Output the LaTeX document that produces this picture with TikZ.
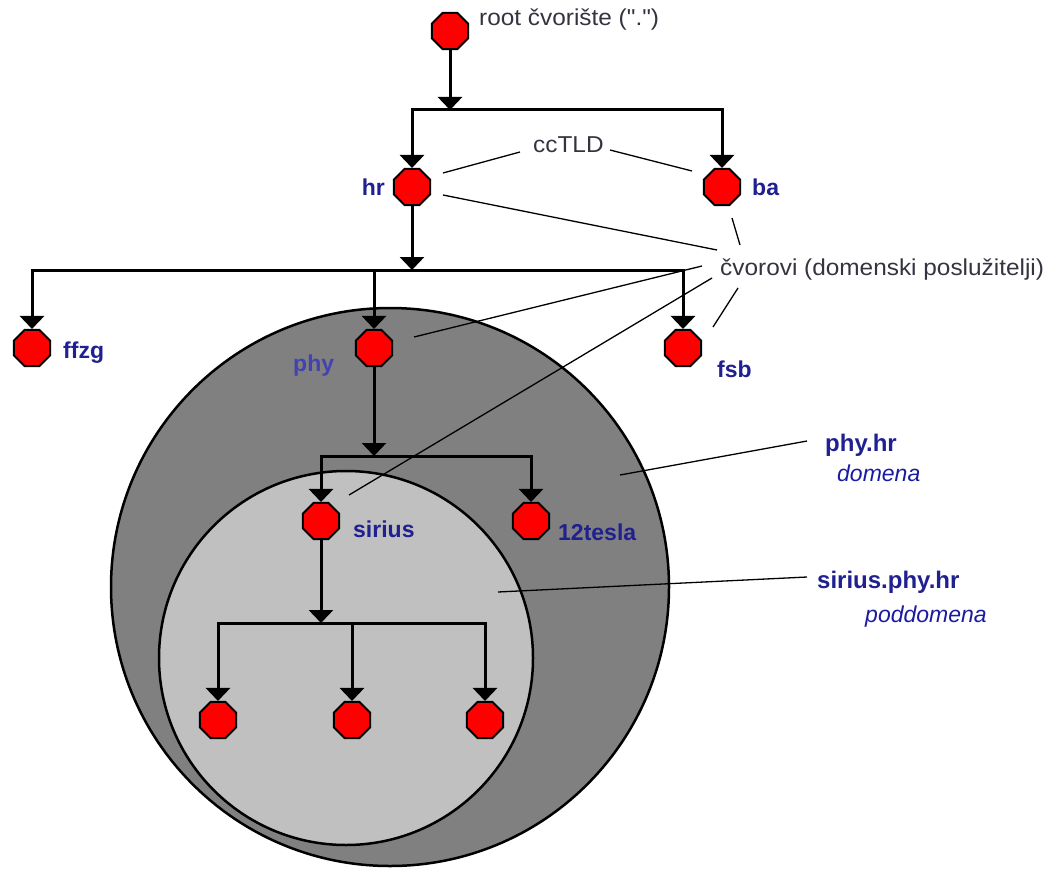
\documentclass[tikz,border=0pt]{standalone}
\usepackage{fontspec}
\setmainfont{Liberation Sans}
\newfontfamily\plainfont[FakeStretch=1.06]{Liberation Sans}
\usetikzlibrary{shapes.geometric,arrows.meta}
\definecolor{navy}{RGB}{32,32,144}
\definecolor{lblue}{RGB}{66,66,176}
\definecolor{txt}{RGB}{52,52,64}
\definecolor{dgray}{RGB}{128,128,128}
\definecolor{lgray}{RGB}{192,192,192}
\begin{document}
\begin{tikzpicture}[x=1pt,y=-1pt,
  oct/.style={regular polygon,regular polygon sides=8,draw=black,fill=red,line width=2pt,minimum size=39pt,inner sep=0pt},
  arr/.style={line width=3pt,line join=miter,-{Triangle[width=24pt,length=13pt]}},
  bar/.style={line width=3pt,line join=miter,{Triangle[width=24pt,length=13pt]}-{Triangle[width=24pt,length=13pt]}},
  lead/.style={line width=1.3pt},
  plain/.style={text=txt,font=\plainfont\fontsize{23}{27}\selectfont,inner sep=0pt},
  lbl/.style={text=navy,font=\fontsize{23}{27}\selectfont\bfseries,inner sep=0pt},
  lbllight/.style={text=lblue,font=\fontsize{23}{27}\selectfont\bfseries,inner sep=0pt},
  dom/.style={text=navy,font=\fontsize{24}{28}\selectfont\bfseries,inner sep=0pt},
  domit/.style={text=navy!85!blue,font=\fontsize{23}{27}\selectfont\itshape,inner sep=0pt},
  region/.style={draw=black,line width=2.5pt}
]
\useasboundingbox (0,0) rectangle (1049,872);
% domain regions
\draw[region,fill=dgray] (390,587) circle[radius=279];
\draw[region,fill=lgray] (346,658) circle[radius=187];

% nodes
\node[oct] (root) at (450,31) {};
\node[oct] (hr) at (412,187) {};
\node[oct] (ba) at (722,187) {};
\node[oct] (ffzg) at (32,348) {};
\node[oct] (phy) at (374,348) {};
\node[oct] (fsb) at (683,348) {};
\node[oct] (sirius) at (321,521) {};
\node[oct] (tesla) at (531,521) {};
\node[oct] (l1) at (218,720) {};
\node[oct] (l2) at (352,720) {};
\node[oct] (l3) at (485,720) {};

% branch points
\coordinate (b1) at (450,110);
\coordinate (b2) at (412,270);
\coordinate (b3) at (374,456);
\coordinate (b4) at (321,623);

\draw[arr] (root.south) -- (b1);
\draw[bar] (hr.north) -- (hr.north |- b1) -- (ba.north |- b1) -- (ba.north);
\draw[arr] (hr.south) -- (b2);
\draw[bar] (ffzg.north) -- (ffzg.north |- b2) -- (fsb.north |- b2) -- (fsb.north);
\draw[arr] (phy.north |- b2) -- (phy.north);
\draw[arr] (phy.south) -- (b3);
\draw[bar] (sirius.north) -- (sirius.north |- b3) -- (tesla.north |- b3) -- (tesla.north);
\draw[arr] (sirius.south) -- (b4);
\draw[bar] (l1.north) -- (l1.north |- b4) -- (l3.north |- b4) -- (l3.north);
\draw[arr] (l2.north |- b4) -- (l2.north);

% labels
\node[plain,anchor=base west] (roottxt) at (479,26) {root čvorište (\symbol{34}.\symbol{34})};
\node[plain,anchor=base west] (cctld) at (533,153) {ccTLD};
\node[plain,anchor=base west] (cvor) at (720,275) {čvorovi (domenski poslužitelji)};
\node[lbl,anchor=base east] (hrl) at (385,195) {hr};
\node[lbl,anchor=base west] (bal) at (752,195) {ba};
\node[lbl,anchor=base west] (ffzgl) at (63,358) {ffzg};
\node[lbllight,anchor=base west] (phyl) at (293,371) {phy};
\node[lbl,anchor=base west] (fsbl) at (717,377) {fsb};
\node[lbl,anchor=base west] (siriusl) at (353,537) {sirius};
\node[lbl,anchor=base west] (teslal) at (558,540) {12tesla};
\node[dom,anchor=base west] (phyhr) at (825,451) {phy.hr};
\node[domit,anchor=base west] (domena) at (837,481) {domena};
\node[dom,anchor=base west] (siriushr) at (817,588) {sirius.phy.hr};
\node[domit,anchor=base west] (poddomena) at (865,622) {poddomena};

% leader lines
\coordinate (c1a) at (443,173); \coordinate (c1b) at (520,152);
\coordinate (c2a) at (610,150); \coordinate (c2b) at (692,171);
\coordinate (v1a) at (443,195); \coordinate (v1b) at (717,250);
\coordinate (v2a) at (732,218); \coordinate (v2b) at (740,245);
\coordinate (v3a) at (414,337); \coordinate (v3b) at (702,266);
\coordinate (v4a) at (349,495); \coordinate (v4b) at (712,278);
\coordinate (v5a) at (738,288); \coordinate (v5b) at (713,327);
\coordinate (d1a) at (620,475); \coordinate (d1b) at (807,441);
\coordinate (d2a) at (498,592); \coordinate (d2b) at (807,577);
\draw[lead] (c1a) -- (c1b);
\draw[lead] (c2a) -- (c2b);
\draw[lead] (v1a) -- (v1b);
\draw[lead] (v2a) -- (v2b);
\draw[lead] (v3a) -- (v3b);
\draw[lead] (v4a) -- (v4b);
\draw[lead] (v5a) -- (v5b);
\draw[lead] (d1a) -- (d1b);
\draw[lead] (d2a) -- (d2b);
\end{tikzpicture}
\end{document}
